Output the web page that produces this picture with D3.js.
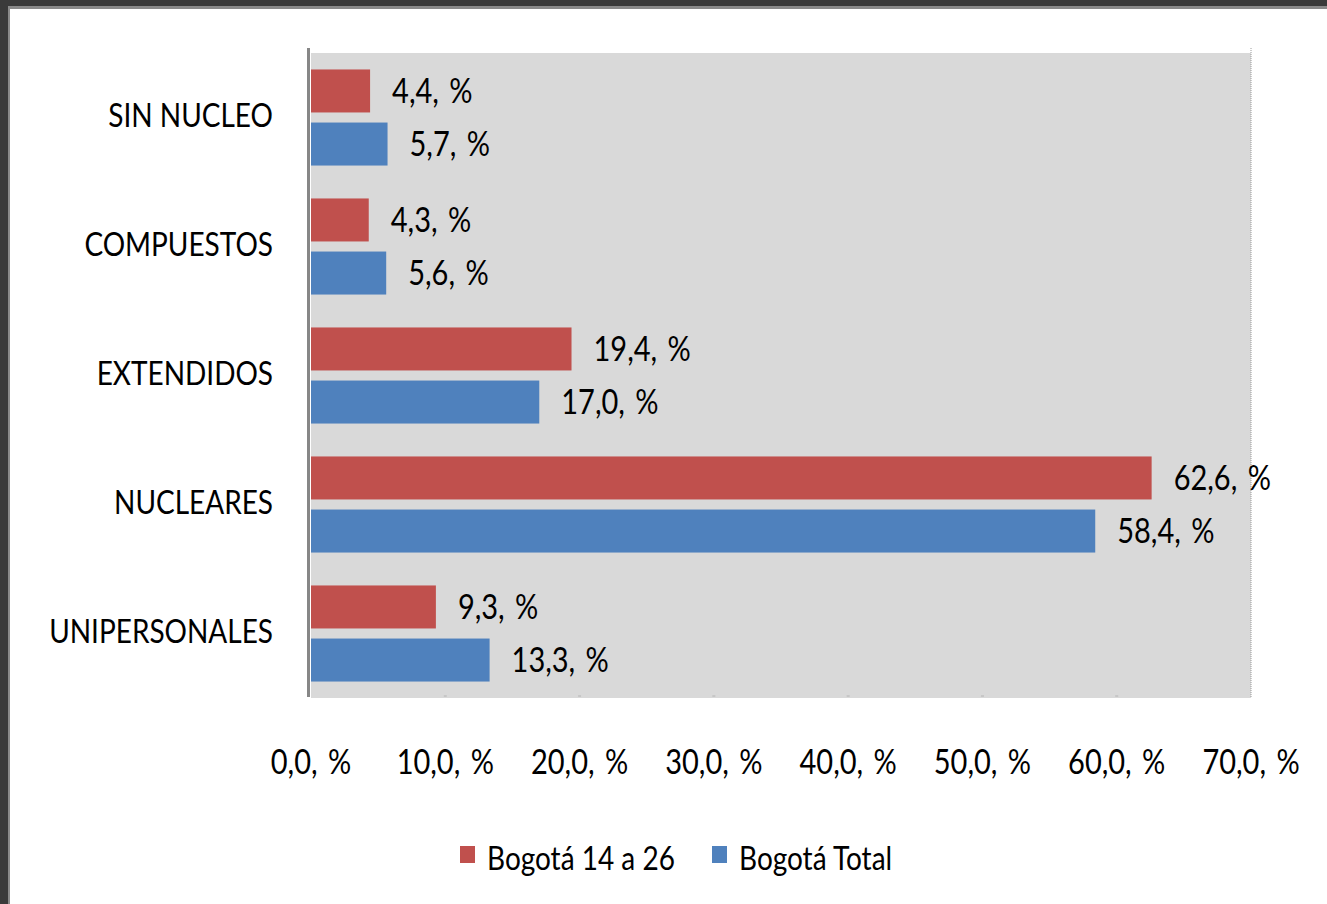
<!DOCTYPE html>
<html>
<head>
<meta charset="utf-8">
<script src="https://d3js.org/d3.v7.min.js"></script>
<style>
  body { margin: 0; background: #3a3a3a; }
  svg { display: block; }
  text { font-family: Lato, "Open Sans", sans-serif; fill: #000; }
  .val { word-spacing: 3px; }
</style>
</head>
<body>
<div id="chart"></div>
<script>
var categories = ["SIN NUCLEO", "COMPUESTOS", "EXTENDIDOS", "NUCLEARES", "UNIPERSONALES"];
var seriesNames = ["Bogotá 14 a 26", "Bogotá Total"];
var seriesColors = ["#C0504D", "#4F81BD"];
var joven = [4.4, 4.3, 19.4, 62.6, 9.3];
var total = [5.7, 5.6, 17.0, 58.4, 13.3];
var ticks = [0, 10, 20, 30, 40, 50, 60, 70];

var W = 1327, H = 904;
var plot = {left: 311, right: 1251, top: 53, bottom: 698};
var stretch = 1.2; // text in the picture is drawn a bit taller than wide

var svg = d3.select("#chart").append("svg").attr("width", W).attr("height", H);

// window frame
svg.append("rect").attr("width", W).attr("height", H).attr("fill", "#3a3a3a");
svg.append("rect").attr("x", 8).attr("y", 6).attr("width", W - 8).attr("height", H - 6).attr("fill", "#8a8a8a");
svg.append("rect").attr("x", 10).attr("y", 9).attr("width", W - 10).attr("height", H - 9).attr("fill", "#fff");

var x = d3.scaleLinear().domain([0, 70]).range([plot.left, plot.right]);
var y = d3.scaleBand().domain(categories).range([plot.top, plot.bottom]);
var ys = d3.scaleBand().domain(seriesNames).range([0, y.bandwidth()])
  .paddingInner(0.19).paddingOuter(0.31);

var fmt = function(v) { return d3.format(".1f")(v).replace(".", ",") + ", %"; };

function label(g, tx, ty, txt, size, anchor) {
  return g.append("text")
    .attr("transform", "translate(" + tx + "," + ty + ") scale(1," + stretch + ")")
    .attr("text-anchor", anchor || "start")
    .attr("dy", "0.35em")
    .style("font-size", size + "px")
    .text(txt);
}

// plot background
svg.append("rect")
  .attr("x", plot.left).attr("y", plot.top)
  .attr("width", plot.right - plot.left).attr("height", plot.bottom - plot.top)
  .attr("fill", "#D9D9D9");

// dotted right edge + faint tick marks
svg.append("line")
  .attr("x1", x(70)).attr("x2", x(70)).attr("y1", 48).attr("y2", plot.bottom)
  .attr("stroke", "#9a9a9a").attr("stroke-width", 1).attr("stroke-dasharray", "1,1");
svg.append("g").selectAll("line").data(ticks.slice(1, -1)).enter().append("line")
  .attr("x1", d => x(d) - 1.5).attr("x2", d => x(d) + 1.5)
  .attr("y1", plot.bottom - 2).attr("y2", plot.bottom - 2)
  .attr("stroke", "#b4b4b4").attr("stroke-width", 1);

var rows = categories.map(function(c, i) {
  return {cat: c, vals: [{s: seriesNames[0], v: joven[i], c: seriesColors[0]},
                         {s: seriesNames[1], v: total[i], c: seriesColors[1]}]};
});

var bars = svg.append("g");
rows.forEach(function(r) {
  var g = bars.append("g").attr("transform", "translate(0," + y(r.cat) + ")");
  g.selectAll("rect").data(r.vals).enter().append("rect")
    .attr("x", x(0))
    .attr("y", d => ys(d.s))
    .attr("width", d => x(d.v) - x(0))
    .attr("height", ys.bandwidth())
    .attr("fill", d => d.c);
  r.vals.forEach(function(d) {
    label(g, x(d.v) + 22, ys(d.s) + ys.bandwidth() / 2, fmt(d.v), 29).attr("class", "val");
  });
  label(svg, 273, y(r.cat) + y.bandwidth() / 2 - 2, r.cat, 28, "end");
});

// left axis line
svg.append("line")
  .attr("x1", 308.5).attr("x2", 308.5).attr("y1", 48).attr("y2", 697)
  .attr("stroke", "#878787").attr("stroke-width", 3);

// x tick labels
ticks.forEach(function(t) {
  label(svg, x(t), 762, fmt(t), 29, "middle").attr("class", "val");
});

// legend
var legX = [460, 712];
seriesNames.forEach(function(s, i) {
  svg.append("rect").attr("x", legX[i]).attr("y", 846).attr("width", 15).attr("height", 17)
    .attr("fill", seriesColors[i]);
  label(svg, legX[i] + 27, 858, s, 28);
});
</script>
</body>
</html>
